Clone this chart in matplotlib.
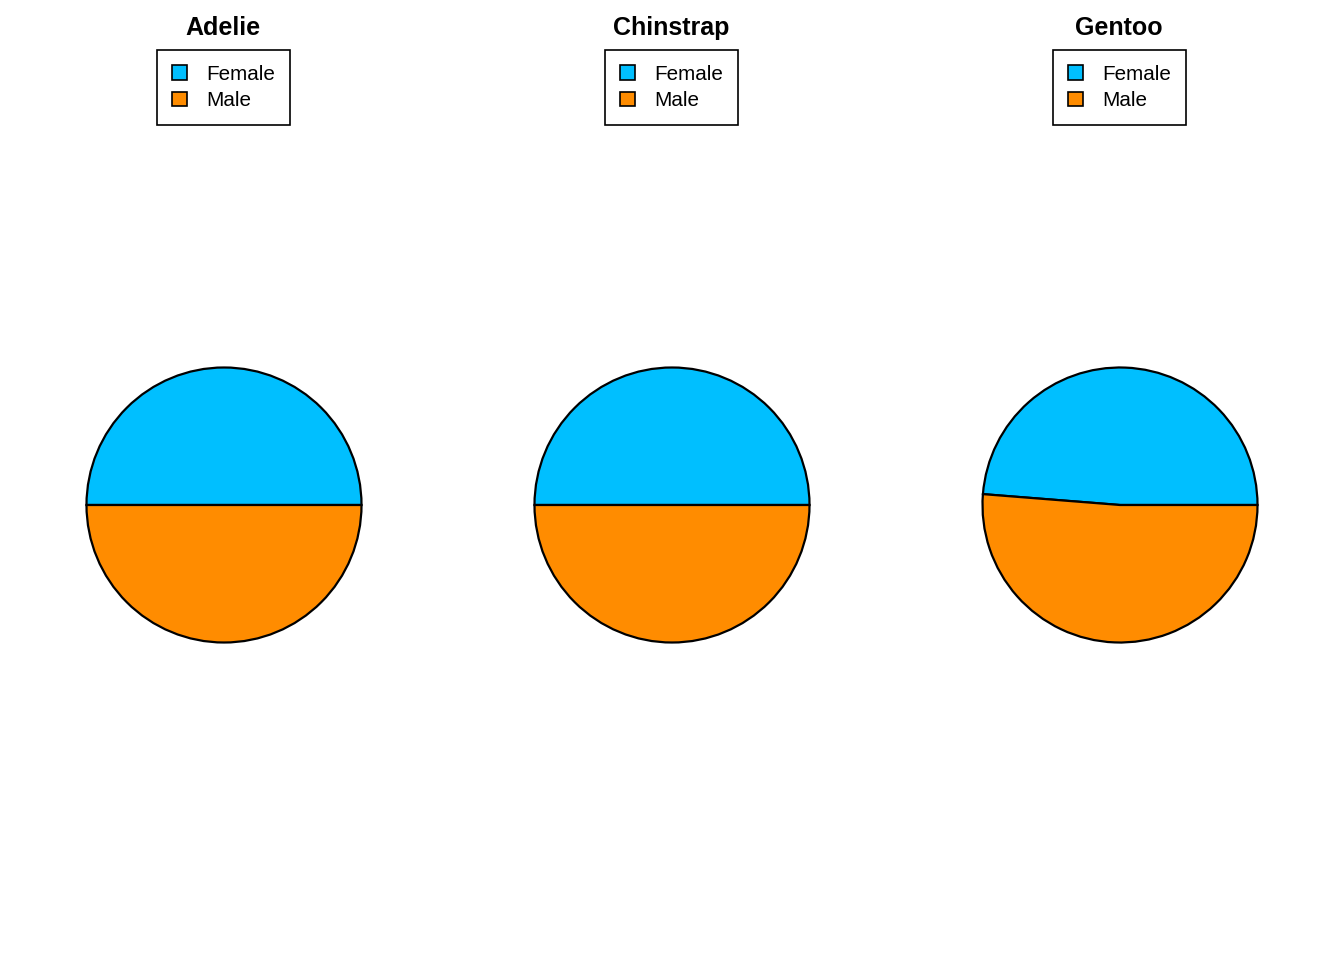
import matplotlib
matplotlib.use("Agg")
import matplotlib.pyplot as plt
from matplotlib.patches import Patch

species = ["Adelie", "Chinstrap", "Gentoo"]
sexes = ["Female", "Male"]
female_counts = [73, 34, 58]
male_counts = [73, 34, 61]
colors = ["#00BFFF", "#FF8C00"]

plt.rcParams['font.family'] = ['Liberation Sans', 'DejaVu Sans']

W, H = 1344, 960
fig = plt.figure(figsize=(W / 100, H / 100), dpi=100)

r = 137.5
cy = 505
for i, sp in enumerate(species):
    cx = 224 + 448 * i
    ax = fig.add_axes([(cx - r - 2) / W, 1 - (cy + r + 2) / H, (2 * r + 4) / W, (2 * r + 4) / H])
    ax.pie([female_counts[i], male_counts[i]], colors=colors, startangle=0,
           counterclock=True, radius=1.0,
           wedgeprops=dict(edgecolor="black", linewidth=1.6))
    ax.set_xlim(-(r + 2) / r, (r + 2) / r)
    ax.set_ylim(-(r + 2) / r, (r + 2) / r)
    ax.set_aspect("equal")
    ax.axis("off")
    fig.text((cx - 1) / W, 1 - 28 / H, sp, ha="center", va="center",
             fontsize=18, fontweight="bold")
    handles = [Patch(facecolor=c, edgecolor="black", linewidth=1.2) for c in colors]
    leg = fig.legend(handles, sexes, loc="upper center",
                     bbox_to_anchor=((cx - 0.5) / W, 1 - 50 / H),
                     fontsize=14.9, frameon=True, fancybox=False,
                     edgecolor="black", framealpha=1, borderpad=0.72,
                     handlelength=0.72, handleheight=0.72, handletextpad=0.9,
                     labelspacing=0.36, borderaxespad=0)
    leg.get_frame().set_linewidth(1.2)

fig.savefig("out.png", dpi=100)
